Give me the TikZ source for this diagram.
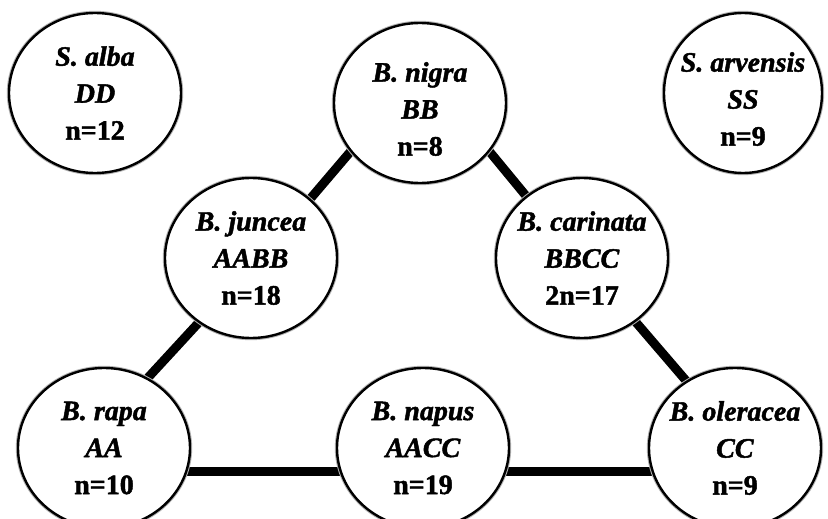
\documentclass[tikz,border=0pt]{standalone}
\usepackage{fontspec}
\setmainfont{Liberation Serif}
\usetikzlibrary{shapes.geometric,backgrounds}
\tikzset{
  sp/.style={ellipse, draw=black, line width=2.4pt, fill=white,
    minimum width=172pt, minimum height=160pt, inner sep=0pt,
    preaction={draw=gray!60, line width=4.4pt}},
  lab/.style={align=center, font=\fontsize{28}{37}\selectfont\bfseries\addfontfeatures{FakeBold=1.6}, text=black},
  link/.style={draw=black, line width=9pt}
}
\newcommand{\spc}[3]{\textit{#1}\\\textit{#2}\\#3}
\begin{document}
\begin{tikzpicture}[x=1pt,y=-1pt]
\useasboundingbox (0,0) rectangle (828,519);
\node[sp] (alba) at (95,93) {};
\node[lab] at (alba.center) {\spc{S. alba}{DD}{n=12}};
\node[sp] (nigra) at (420,103) {};
\node[lab] at ([yshift=-6pt]nigra.center) {\spc{B. nigra}{BB}{n=8}};
\node[sp, minimum width=158pt] (arv) at (743,93) {};
\node[lab] at ([yshift=-6pt]arv.center) {\spc{S. arvensis}{SS}{n=9}};
\node[sp] (juncea) at (251,258) {};
\node[lab] at (juncea.center) {\spc{B. juncea}{AABB}{n=18}};
\node[sp] (carinata) at (582,258) {};
\node[lab] at (carinata.center) {\spc{B. carinata}{BBCC}{2n=17}};
\node[sp] (rapa) at (104,448) {};
\node[lab] at (rapa.center) {\spc{B. rapa}{AA}{n=10}};
\node[sp] (napus) at (423,448) {};
\node[lab] at (napus.center) {\spc{B. napus}{AACC}{n=19}};
\node[sp] (oleracea) at (735,448) {};
\node[lab] at (oleracea.center) {\spc{B. oleracea}{CC}{n=9}};
\begin{pgfonlayer}{background}
\draw[link] (nigra.215) -- (juncea.45);
\draw[link] (nigra.-35) -- (carinata.132);
\draw[link] (juncea.231) -- (rapa.58);
\draw[link] (carinata.310) -- (oleracea.126);
\draw[link] (rapa.-16) -- (napus.196);
\draw[link] (napus.-16) -- (oleracea.196);
\end{pgfonlayer}
\end{tikzpicture}
\end{document}
